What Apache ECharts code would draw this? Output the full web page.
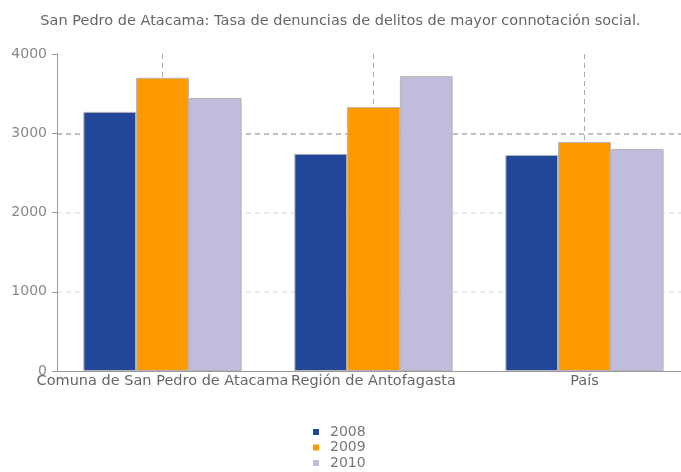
<!DOCTYPE html>
<html>
<head>
<meta charset="utf-8">
<script src="https://cdn.jsdelivr.net/npm/echarts@6/dist/echarts.min.js"></script>
<style>
  html, body { margin: 0; padding: 0; background: #fff; }
  #main { width: 681px; height: 472px; }
</style>
</head>
<body>
<div id="main"></div>
<script>
  // datos
  var categorias = ["Comuna de San Pedro de Atacama", "Región de Antofagasta", "País"];
  var anios = ["2008", "2009", "2010"];
  var v2008 = [3270, 2740, 2725];
  var v2009 = [3700, 3330, 2890];
  var v2010 = [3445, 3720, 2800];
  var ticksY = [0, 1000, 2000, 3000, 4000];
  var colores = ["#22469a", "#ff9900", "#c0bcdc"];

  var myChart = echarts.init(document.getElementById("main"));

  var serie = function(nombre, datos, color) {
    return {
      name: nombre,
      type: "bar",
      data: datos,
      barCategoryGap: "25%",
      barGap: "0%",
      itemStyle: { color: color, borderColor: "#b5b5b5", borderWidth: 1 }
    };
  };

  myChart.setOption({
    animation: false,
    title: {
      text: "San Pedro de Atacama: Tasa de denuncias de delitos de mayor connotación social.",
      left: "center",
      top: 9,
      textStyle: { fontSize: 14.5, fontWeight: "normal", color: "#666", fontFamily: "DejaVu Sans" }
    },
    grid: { left: 57, top: 54, right: -9, height: 317, outerBoundsMode: "none" },
    legend: {
      orient: "vertical",
      left: 313,
      top: 425,
      padding: 0,
      itemWidth: 6,
      itemHeight: 6,
      itemGap: 1.5,
      icon: "rect",
      data: anios,
      itemStyle: { borderWidth: 0 },
      textStyle: { fontSize: 14, lineHeight: 14, color: "#777", fontFamily: "DejaVu Sans", padding: [0, 0, 0, 6] }
    },
    xAxis: {
      type: "category",
      data: categorias,
      axisLine: { lineStyle: { color: "#999" } },
      axisTick: { show: false },
      axisLabel: { color: "#666", fontSize: 14.5, margin: 3, interval: 0, fontFamily: "DejaVu Sans" },
      splitLine: { show: true, alignWithLabel: true, lineStyle: { color: "#aaa", type: [5, 4] } }
    },
    yAxis: {
      type: "value",
      min: ticksY[0],
      max: ticksY[ticksY.length - 1],
      interval: 1000,
      axisLine: { show: true, lineStyle: { color: "#999" } },
      axisTick: { show: true, length: 5, lineStyle: { color: "#999" } },
      axisLabel: { color: "#888", fontSize: 14, margin: 10, fontFamily: "DejaVu Sans",
        formatter: function(v) { return String(v); } },
      splitLine: {
        show: true,
        lineStyle: { color: ["#fff", "#e3e3e3", "#e3e3e3", "#aaa", "#fff"], type: [5, 4], width: 1.5 }
      }
    },
    series: [
      serie(anios[0], v2008, colores[0]),
      serie(anios[1], v2009, colores[1]),
      serie(anios[2], v2010, colores[2])
    ]
  });
</script>
</body>
</html>
